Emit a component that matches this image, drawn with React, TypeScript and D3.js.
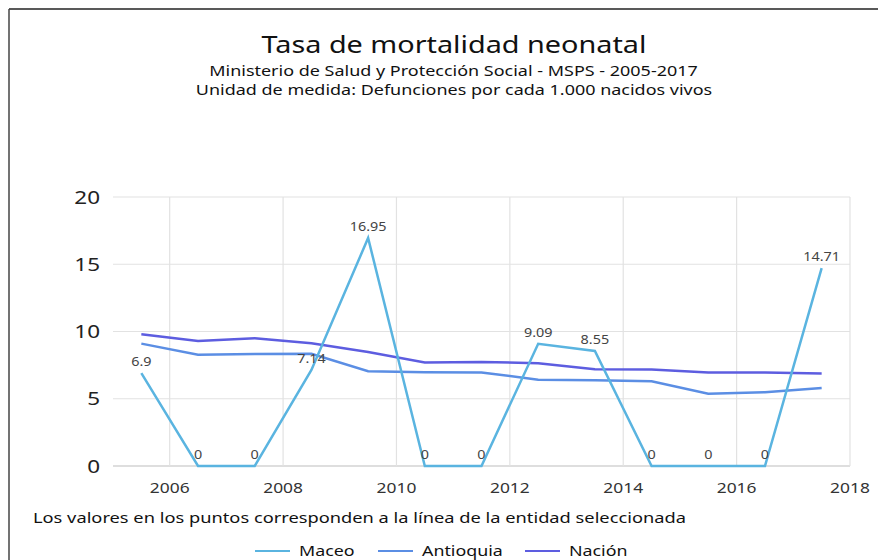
import React from "react";
import * as d3 from "d3";

const years = [2005.5, 2006.5, 2007.5, 2008.5, 2009.5, 2010.5, 2011.5, 2012.5, 2013.5, 2014.5, 2015.5, 2016.5, 2017.5];
const maceo = [6.9, 0, 0, 7.14, 16.95, 0, 0, 9.09, 8.55, 0, 0, 0, 14.71];
const antioquia = [9.1, 8.28, 8.33, 8.35, 7.04, 6.97, 6.95, 6.42, 6.37, 6.3, 5.38, 5.48, 5.8];
const nacion = [9.79, 9.3, 9.5, 9.12, 8.48, 7.69, 7.74, 7.64, 7.19, 7.17, 6.95, 6.95, 6.87];
const xTicks = [2006, 2008, 2010, 2012, 2014, 2016, 2018];
const yTicks = [0, 5, 10, 15, 20];
const seriesNames = ["Maceo", "Antioquia", "Nación"];
const seriesColors = ["#5ab4e0", "#5b8ee4", "#5d5de0"];

const FONT = "'Noto Sans', 'Open Sans', sans-serif";

function T(props: { x: number; y: number; sx: number; size: number; anchor?: string; fill?: string; children: any }) {
  return (
    <g transform={`translate(${props.x},${props.y}) scale(${props.sx},1)`}>
      <text x={0} y={0} textAnchor={props.anchor || "start"} fontSize={props.size} fill={props.fill || "#111"}>
        {props.children}
      </text>
    </g>
  );
}

export default function App() {
  const W = 878, H = 560;
  const left = 113, right = 850, top = 197, bottom = 466;
  const x = d3.scaleLinear().domain([2005, 2018]).range([left, right]);
  const y = d3.scaleLinear().domain([0, 20]).range([bottom, top]);
  const line = d3.line<number>().x((_, i) => x(years[i])).y((d) => y(d));
  const series = [maceo, antioquia, nacion];
  const legendX = [255, 378, 525];

  return (
    <svg width={W} height={H} style={{ position: "absolute", left: 0, top: 0, background: "#fff" }} fontFamily={FONT}>
      <rect x={0} y={0} width={W} height={H} fill="#fff" />
      <line x1={9} y1={9} x2={W} y2={9} stroke="#222" strokeWidth={1.5} />
      <line x1={9} y1={9} x2={9} y2={H} stroke="#444" strokeWidth={1.5} />

      <T x={454} y={53} sx={1.2} size={24} anchor="middle">Tasa de mortalidad neonatal</T>
      <T x={453.5} y={76} sx={1.24} size={14.5} anchor="middle">Ministerio de Salud y Protección Social - MSPS - 2005-2017</T>
      <T x={454} y={95} sx={1.24} size={14.5} anchor="middle">Unidad de medida: Defunciones por cada 1.000 nacidos vivos</T>

      {yTicks.map((t) => (
        <g key={"y" + t}>
          <line x1={left} x2={right} y1={y(t)} y2={y(t)} stroke={t === 0 ? "#bdbdbd" : "#e2e2e2"} strokeWidth={1.2} />
          <T x={100} y={y(t) + 6.5} sx={1.25} size={18} anchor="end" fill="#222">{t}</T>
        </g>
      ))}
      {xTicks.map((t) => (
        <g key={"x" + t}>
          <line x1={x(t)} x2={x(t)} y1={top} y2={bottom} stroke="#e2e2e2" strokeWidth={1.2} />
          <T x={x(t)} y={493} sx={1.2} size={14.5} anchor="middle" fill="#333">{t}</T>
        </g>
      ))}

      {series.map((s, k) => (
        <path key={"s" + k} d={line(s) || ""} fill="none" stroke={seriesColors[k]} strokeWidth={2.5} />
      )).reverse()}

      {maceo.map((v, i) => (
        <T key={"l" + i} x={x(years[i])} y={y(v) - 7} sx={1.2} size={12} anchor="middle" fill="#444">{v}</T>
      ))}

      <T x={33} y={523} sx={1.26} size={14.5}>Los valores en los puntos corresponden a la línea de la entidad seleccionada</T>

      {seriesNames.map((n, k) => (
        <g key={"lg" + k}>
          <line x1={legendX[k]} x2={legendX[k] + 35} y1={551} y2={551} stroke={seriesColors[k]} strokeWidth={2} />
          <T x={legendX[k] + 44} y={556} sx={1.19} size={15}>{n}</T>
        </g>
      ))}
    </svg>
  );
}
